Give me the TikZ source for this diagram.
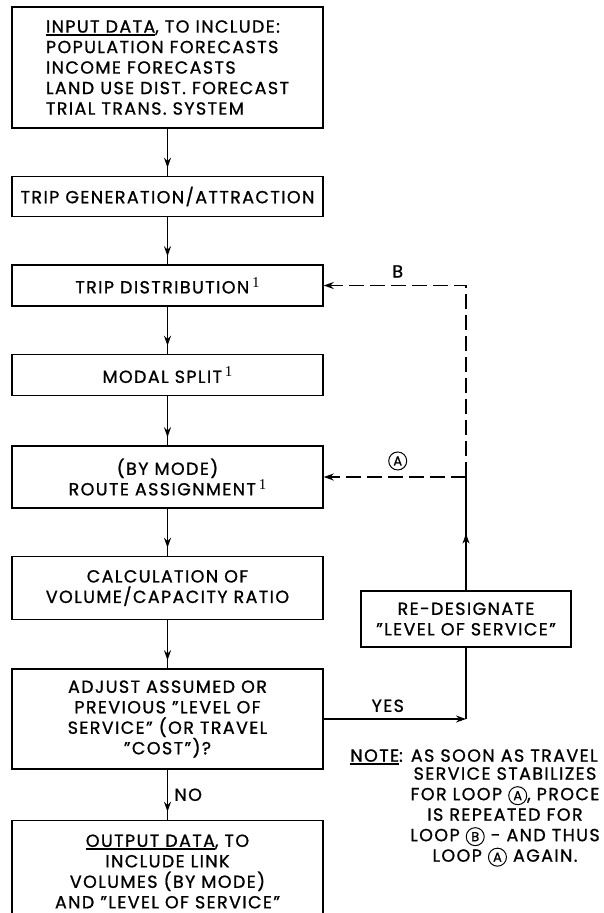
\documentclass[tikz,border=0pt]{standalone}
\usepackage{fontspec}
\setmainfont{Poppins}[FakeBold=1,LetterSpace=8]
\newfontfamily\numfont{Liberation Serif}
\usetikzlibrary{positioning,arrows.meta,decorations.markings}

\newcommand{\heavyul}[1]{\setbox0\hbox{#1}\rlap{\rule[-3pt]{\wd0}{1.8pt}}\box0}
\newcommand{\ringed}[1]{\tikz[baseline=(c.base)]\node[draw,circle,line width=1pt,
  inner sep=0.3pt,minimum size=18pt,font=\fontsize{13}{13}\selectfont] (c) {#1};}
\newcommand{\loopA}{\ringed{A}}
\newcommand{\loopB}{\ringed{B}}
\newcommand{\fnote}{\,\raisebox{6pt}{\numfont\fontsize{15}{15}\selectfont 1}}

\begin{document}
\begin{tikzpicture}[x=1pt,y=-1pt,node distance=47pt,
  font=\fontsize{17.5}{20.5}\selectfont,
  >={Stealth[length=10pt,width=7pt]},
  stagebox/.style={draw,line width=1.5pt,minimum width=311pt,align=center,inner sep=4pt},
  flow/.style={line width=1.3pt,postaction={decorate},
    decoration={markings,mark=at position -8pt with {\arrow{>}}}},
  loop line/.style={line width=1.3pt,dash pattern=on 15pt off 6pt}]

  \useasboundingbox (0,0) rectangle (604,913);

  % main column
  \node[stagebox,align=left,minimum height=121pt] (input) at (167.5,67.5)
    {\heavyul{INPUT DATA}, TO INCLUDE:\\POPULATION FORECASTS\\INCOME FORECASTS\\LAND USE DIST. FORECAST\\TRIAL TRANS. SYSTEM};
  \node[stagebox,minimum height=40pt] (gen) [below=of input] {TRIP GENERATION/ATTRACTION};
  \node[stagebox,minimum height=41pt] (dist) [below=of gen] {TRIP DISTRIBUTION\fnote};
  \node[stagebox,minimum height=41pt] (modal) [below=of dist] {MODAL SPLIT\fnote};
  \node[stagebox,minimum height=62pt] (route) [below=49pt of modal] {(BY MODE)\\ROUTE ASSIGNMENT\fnote};
  \node[stagebox,minimum height=63pt] (ratio) [below=of route] {CALCULATION OF\\VOLUME/CAPACITY RATIO};
  \node[stagebox,minimum height=100pt] (adjust) [below=48pt of ratio]
    {ADJUST ASSUMED OR\\PREVIOUS "LEVEL OF\\SERVICE" (OR TRAVEL\\"COST")?};
  \node[stagebox,minimum height=102pt] (output) [below=50pt of adjust]
    {\heavyul{OUTPUT DATA}, TO\\INCLUDE LINK\\VOLUMES (BY MODE)\\AND "LEVEL OF SERVICE"};

  \node[stagebox,minimum width=210pt,minimum height=56pt] (redo) at (466,619)
    {RE-DESIGNATE\\"LEVEL OF SERVICE"};

  \draw[flow] (input) -- (gen);
  \draw[flow] (gen) -- (dist);
  \draw[flow] (dist) -- (modal);
  \draw[flow] (modal) -- (route);
  \draw[flow] (route) -- (ratio);
  \draw[flow] (ratio) -- (adjust);
  \draw[flow] (adjust) -- node[right=3pt] {NO} (output);

  % feedback loops
  \coordinate (yes) at (redo.south |- adjust.east);
  \coordinate (jA) at (redo.north |- route.east);
  \coordinate (jB) at (redo.north |- dist.east);
  \draw[line width=1.3pt,->] (adjust.east) -- node[above=3pt,pos=0.45] {YES} (yes);
  \draw[line width=1.3pt] (redo.south) -- (yes);
  \draw[line width=1.3pt,postaction={decorate},
    decoration={markings,mark=at position 0.5 with {\arrow{>}}}] (redo.north) -- (jA);
  \draw[loop line,->] (jA) -- node[above=3pt,pos=0.48] {\loopA} (route.east);
  \draw[loop line,->] (jA) -- (jB) -- node[above=4pt,pos=0.48] {B} (dist.east);

  % note
  \node (notehead) at (474,757) {\heavyul{NOTE}: AS SOON AS TRAVEL};
  \node[align=center] (notebody) at (505,817)
    {SERVICE STABILIZES\\FOR LOOP \loopA, PROCE\\IS REPEATED FOR\\LOOP \loopB\ - AND THUS\\LOOP \loopA\ AGAIN.};

\end{tikzpicture}
\end{document}
